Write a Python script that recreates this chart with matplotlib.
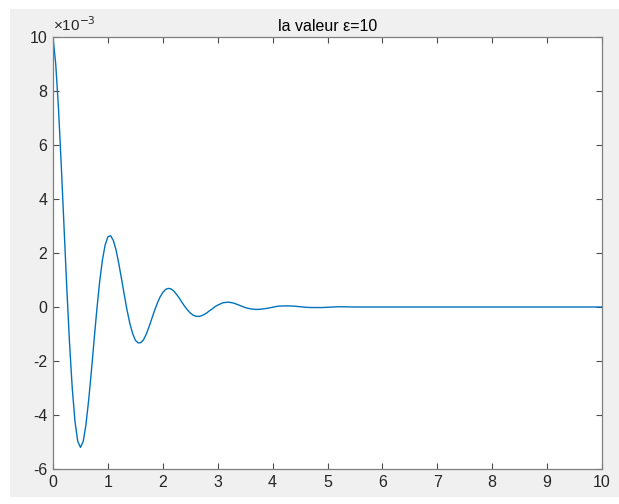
import matplotlib.pyplot as plt
from matplotlib.patches import Rectangle

plt.rcParams['font.family'] = ['Liberation Sans', 'DejaVu Sans']
plt.rcParams['axes.unicode_minus'] = False

# values, y in units of 1e-3
t = [0.00, 0.05, 0.10, 0.15, 0.20, 0.25, 0.30, 0.35, 0.40, 0.45,
     0.50, 0.55, 0.60, 0.65, 0.70, 0.75, 0.80, 0.85, 0.90, 0.95,
     1.00, 1.05, 1.10, 1.15, 1.20, 1.25, 1.30, 1.35, 1.40, 1.45,
     1.50, 1.55, 1.60, 1.65, 1.70, 1.75, 1.80, 1.85, 1.90, 1.95,
     2.00, 2.05, 2.10, 2.15, 2.20, 2.25, 2.30, 2.35, 2.40, 2.45,
     2.50, 2.55, 2.60, 2.65, 2.70, 2.75, 2.80, 2.85, 2.90, 2.95,
     3.00, 3.10, 3.20, 3.30, 3.40, 3.50, 3.60, 3.70, 3.80, 3.90,
     4.00, 4.10, 4.20, 4.30, 4.40, 4.50, 4.60, 4.70, 4.80, 4.90,
     5.00, 5.20, 5.50, 6.00, 7.00, 8.00, 9.00, 10.00]
y_milli = [10.00, 8.99, 7.35, 5.27, 3.01, 0.75, -1.29, -2.99, -4.23, -4.97,
           -5.20, -4.98, -4.36, -3.44, -2.36, -1.19, -0.06, 0.94, 1.74, 2.30,
           2.60, 2.64, 2.46, 2.10, 1.59, 1.02, 0.43, -0.13, -0.61, -0.98,
           -1.23, -1.33, -1.32, -1.21, -1.00, -0.73, -0.43, -0.13, 0.14, 0.37,
           0.54, 0.65, 0.69, 0.67, 0.59, 0.47, 0.33, 0.17, 0.02, -0.11,
           -0.22, -0.30, -0.34, -0.35, -0.33, -0.28, -0.22, -0.14, -0.07, 0.01,
           0.07, 0.16, 0.18, 0.14, 0.06, -0.02, -0.07, -0.09, -0.08, -0.05,
           -0.01, 0.03, 0.04, 0.04, 0.03, 0.01, -0.01, -0.02, -0.02, -0.02,
           -0.01, 0.01, 0.00, 0.00, 0.00, 0.00, 0.00, 0.00]
x_ticks = [0, 1, 2, 3, 4, 5, 6, 7, 8, 9, 10]
y_ticks = [-6, -4, -2, 0, 2, 4, 6, 8, 10]

fig = plt.figure(figsize=(6.19, 5.04), dpi=100, facecolor='white')
# grey MATLAB figure area inside a thin white border
fig.patches.append(Rectangle((10 / 619, 7 / 504), 609 / 619, 488 / 504,
                             transform=fig.transFigure, facecolor='#f0f0f0',
                             edgecolor='none', zorder=-10))

ax = fig.add_axes([53 / 619, 35 / 504, 549 / 619, 432 / 504])
ax.plot(t, y_milli, color='#0072bd', lw=1.0)
ax.set_xlim(0, 10)
ax.set_ylim(-6, 10)
ax.set_xticks(x_ticks)
ax.set_yticks(y_ticks)

axcol = '#262626'
for s in ax.spines.values():
    s.set_color('#7f7f7f')
    s.set_linewidth(0.9)
ax.tick_params(direction='in', length=4, width=0.8, color='#4d4d4d',
               top=True, right=True, labelsize=11.5, labelcolor=axcol, pad=4)

ax.set_title('la valeur ε=10', fontsize=11.5, color='black', pad=4)
ax.text(0.0, 1.006, '×10$^{-3}$', transform=ax.transAxes, fontsize=11,
        color=axcol, va='bottom', ha='left')

plt.savefig('out.png', dpi=100, facecolor=fig.get_facecolor())
